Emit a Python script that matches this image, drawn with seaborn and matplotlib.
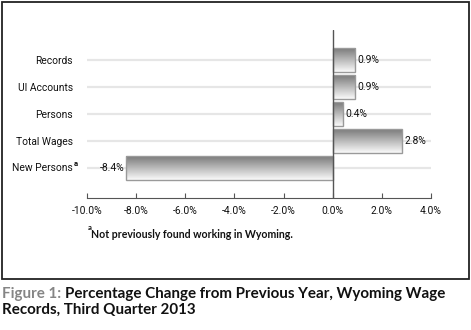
import numpy as np
import pandas as pd
import matplotlib
matplotlib.use("Agg")
import matplotlib.pyplot as plt
import seaborn as sns
from matplotlib.patches import Rectangle

categories = ["Records", "UI Accounts", "Persons", "Total Wages", "New Persons"]
values = [0.9, 0.9, 0.4, 2.8, -8.4]
value_labels = ["0.9%", "0.9%", "0.4%", "2.8%", "-8.4%"]
x_ticks = [-10, -8, -6, -4, -2, 0, 2, 4]
x_tick_labels = ["-10.0%", "-8.0%", "-6.0%", "-4.0%", "-2.0%", "0.0%", "2.0%", "4.0%"]

sns.set_theme(style="white")
plt.rcParams["font.family"] = ["Roboto", "DejaVu Sans"]

W, H = 471, 330
fig = plt.figure(figsize=(W / 100, H / 100), dpi=100)
ax = fig.add_axes([87 / W, 1 - 198 / H, (431 - 87) / W, (198 - 30) / H])

# pick label font size so "Total Wages" is about 57 px wide
renderer = fig.canvas.get_renderer()
probe = fig.text(0, 0, "Total Wages", fontsize=10)
wpx = probe.get_window_extent(renderer).width
probe.remove()
FS = 10 * 57 / wpx
TXT = "#111111"

df = pd.DataFrame({"cat": categories, "val": values})
sns.barplot(data=df, x="val", y="cat", ax=ax, orient="h", width=0.88,
            color="#999999", saturation=1, zorder=3)

# gradient fill for bars
grad = np.linspace(0, 1, 256).reshape(-1, 1)
cmap = matplotlib.colors.LinearSegmentedColormap.from_list("g", ["#7a7a7a", "#fbfbfb"])
for p in ax.patches:
    x0, y0 = p.get_x(), p.get_y()
    w, h = p.get_width(), p.get_height()
    xa, xb = min(x0, x0 + w), max(x0, x0 + w)
    ya, yb = min(y0, y0 + h), max(y0, y0 + h)
    im = ax.imshow(grad, cmap=cmap, extent=(xa, xb, yb, ya), aspect="auto",
                   origin="upper", zorder=3, interpolation="bilinear")
    im.set_clip_path(p)
    p.set_facecolor("none")
    p.set_edgecolor("#9a9a9a")
    p.set_linewidth(1.0)
    p.set_zorder(4)
ax.set_xlim(-10, 4)
ax.set_ylim(4 + 1.11, -1.11)

# gridlines at categories
for i in range(len(categories)):
    ax.axhline(i, color="#e6e6e6", lw=1.6, zorder=1)
ax.axvline(0, color="#555555", lw=1.0, zorder=5)

# value labels
for i, (v, lab) in enumerate(zip(values, value_labels)):
    if v >= 0:
        ax.text(v + 0.12, i, lab, ha="left", va="center", fontsize=FS, color=TXT, zorder=6)
    else:
        ax.text(v - 0.06, i, lab, ha="right", va="center", fontsize=FS, color=TXT, zorder=6)

ax.set_xticks(x_ticks)
ax.set_xticklabels(x_tick_labels, fontsize=FS, color=TXT)
ax.set_yticks(range(len(categories)))
ylabels = categories[:-1] + [""]
ax.set_yticklabels(ylabels, fontsize=FS, color=TXT)
ax.tick_params(axis="y", length=0, pad=10)
ax.tick_params(axis="x", direction="in", length=3.5, width=0.8, color="#555555", pad=6, bottom=True)
for s in ["left", "top", "right"]:
    ax.spines[s].set_visible(False)
ax.spines["bottom"].set_color("#555555")
ax.spines["bottom"].set_linewidth(0.8)
ax.set_xlabel("")
ax.set_ylabel("")

# last category label with superscript
ax.annotate(categories[-1], xy=(0, 4), xycoords=("axes fraction", "data"),
            xytext=(-14 * 0.72, 0), textcoords="offset points", ha="right", va="center",
            fontsize=FS, color=TXT, annotation_clip=False)
ax.annotate("a", xy=(0, 4), xycoords=("axes fraction", "data"),
            xytext=(-13.5 * 0.72, 4.5 * 0.72), textcoords="offset points", ha="left", va="center",
            fontsize=5.5, fontweight="bold", color=TXT, annotation_clip=False)

# footnote
fig.text(88 / W, 1 - 228 / H, "a", fontsize=5.5, fontweight="bold", family=["Lato", "DejaVu Sans"],
         color="#111111", ha="left", va="center")
fig.text(91 / W, 1 - 235 / H, "Not previously found working in Wyoming.", fontsize=7.6,
         fontweight="bold", family=["Lato", "DejaVu Sans"], color="#111111", ha="left", va="center")

# border box
fig.patches.append(Rectangle((1.5 / W, 1 - 279 / H), (469 - 1.5) / W, (279 - 1.5) / H,
                             transform=fig.transFigure, fill=False, edgecolor="#222222", lw=1.3))

# caption
cap_font = ["Lato", "DejaVu Sans"]
t1 = fig.text(2 / W, 1 - 294 / H, "Figure 1: ", fontsize=10.9, fontweight="bold", color="#858585",
              family=cap_font, ha="left", va="center")
fig.canvas.draw()
ax.annotate("Percentage Change from Previous Year, Wyoming Wage", xy=(1, 0), xycoords=t1,
            va="bottom", ha="left", fontsize=10.9, fontweight="bold", color="#111111",
            family=cap_font, annotation_clip=False)
fig.text(2 / W, 1 - 310 / H, "Records, Third Quarter 2013", fontsize=10.9, fontweight="bold",
         color="#111111", family=cap_font, ha="left", va="center")

fig.savefig("out.png", dpi=100)
